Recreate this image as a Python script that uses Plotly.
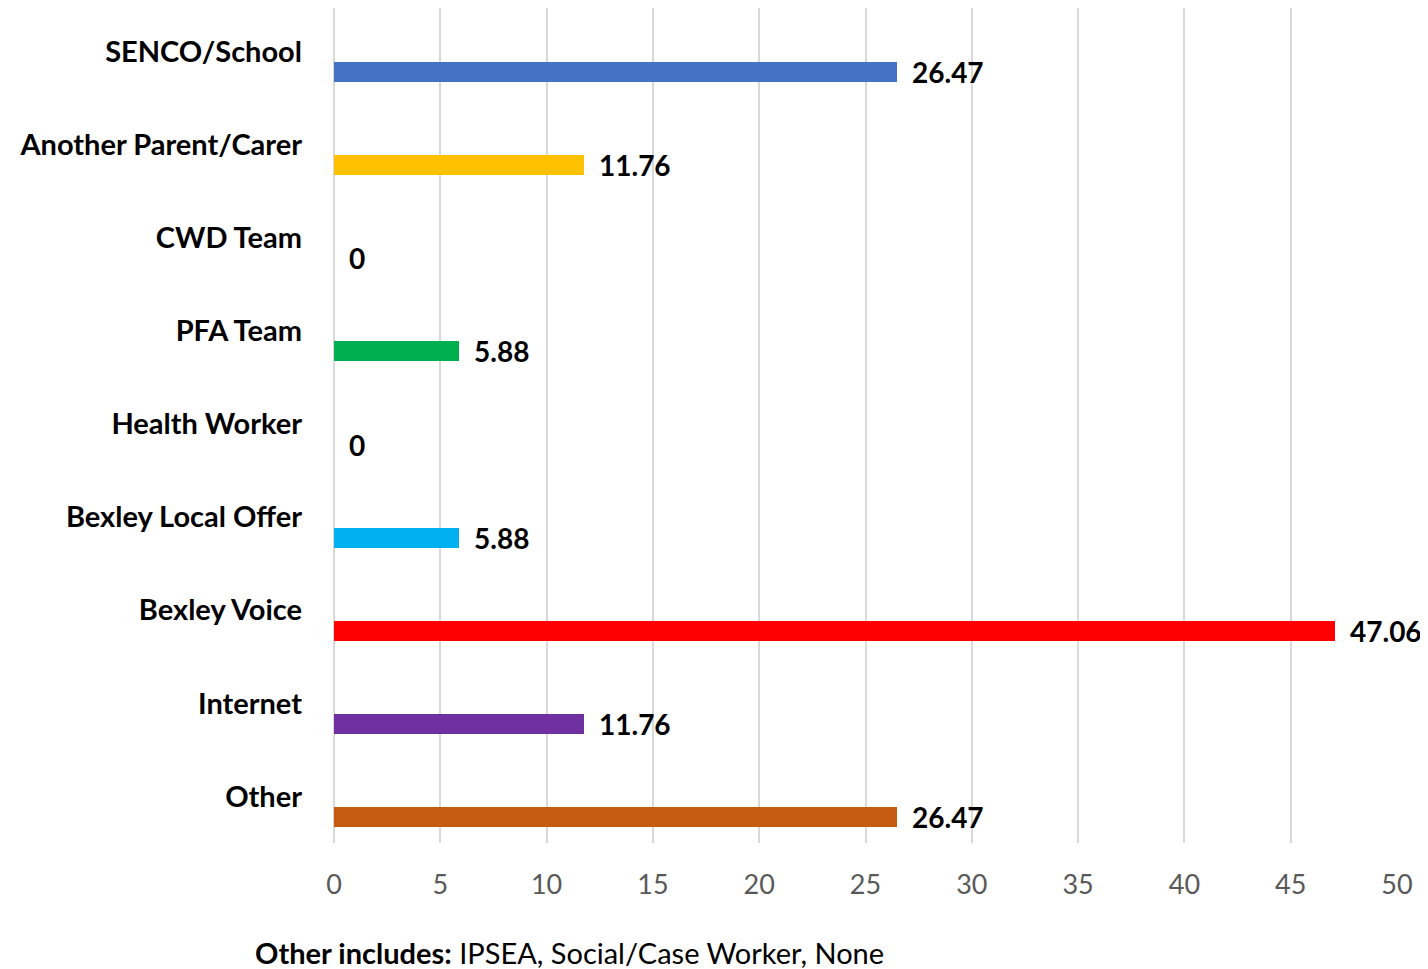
import plotly.graph_objects as go

categories = ["SENCO/School", "Another Parent/Carer", "CWD Team", "PFA Team",
              "Health Worker", "Bexley Local Offer", "Bexley Voice", "Internet", "Other"]
values = [26.47, 11.76, 0, 5.88, 0, 5.88, 47.06, 11.76, 26.47]
value_labels = ["26.47", "11.76", "0", "5.88", "0", "5.88", "47.06", "11.76", "26.47"]
colors = ["#4472C4", "#FFC000", "#A5A5A5", "#00B050", "#5B9BD5",
          "#00B0F0", "#FF0000", "#7030A0", "#C55A11"]
x_ticks = [0, 5, 10, 15, 20, 25, 30, 35, 40, 45, 50]

FONT = "Lato"
positions = list(range(len(categories)))
BAR_OFF = 0.113
BAR_W = 0.215

fig = go.Figure()
fig.add_trace(go.Bar(
    x=values, y=positions, orientation="h",
    marker=dict(color=colors, line=dict(width=0)),
    offset=BAR_OFF, width=BAR_W,
    hoverinfo="skip", showlegend=False,
))

annotations = []
for p, v, t in zip(positions, values, value_labels):
    annotations.append(dict(
        x=v, y=p + BAR_OFF + BAR_W / 2, xref="x", yref="y",
        text=t, showarrow=False, xanchor="left", yanchor="middle",
        xshift=13, font=dict(family=FONT, size=28, color="#000000", weight="bold"),
    ))
annotations.append(dict(
    x=-0.0762, y=-0.131, xref="paper", yref="paper",
    text="<b>Other includes:</b> IPSEA, Social/Case Worker, None",
    showarrow=False, xanchor="left", yanchor="middle",
    font=dict(family=FONT, size=29, color="#000000"),
))

fig.update_layout(
    width=1420, height=961,
    margin=dict(l=326, r=31, t=0, b=126),
    paper_bgcolor="white", plot_bgcolor="white",
    annotations=annotations,
    bargap=0,
)
fig.update_xaxes(
    range=[0, 50], tickvals=x_ticks, showgrid=True, gridcolor="#D9D9D9", gridwidth=2,
    zeroline=True, zerolinecolor="#D9D9D9", zerolinewidth=2,
    showline=False, ticks="", ticklabelstandoff=23,
    tickfont=dict(family=FONT, size=27, color="#595959"),
    fixedrange=True,
)
fig.update_yaxes(
    range=[8.5, -0.469], tickvals=positions, ticktext=categories,
    showgrid=False, zeroline=False, showline=False, ticks="",
    ticklabelstandoff=31,
    tickfont=dict(family=FONT, size=29, color="#000000", weight="bold"),
    fixedrange=True,
)

fig.write_html("out.html")
